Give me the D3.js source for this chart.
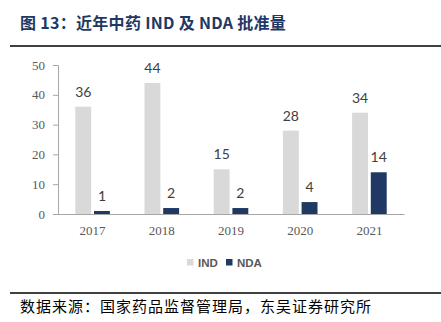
<!DOCTYPE html>
<html><head><meta charset="utf-8">
<script src="https://cdn.jsdelivr.net/npm/d3@7"></script>
<style>body{margin:0;background:#fff}svg{display:block}</style>
</head><body>
<script>
const years = ["2017","2018","2019","2020","2021"];
const seriesNames = ["IND","NDA"];
const indValues = [36,44,15,28,34];
const ndaValues = [1,2,2,4,14];
const yTicks = [0,10,20,30,40,50];
const colors = {IND:"#D9D9D9", NDA:"#1F3864"};

const W=441,H=322;
const svg=d3.select("body").append("svg").attr("width",W).attr("height",H);

svg.append("text").attr("x",20).attr("y",29)
  .attr("font-family","'Noto Sans CJK SC',sans-serif").attr("font-weight","bold")
  .attr("font-size",16).attr("letter-spacing",0.3).attr("fill","#1F3864")
  .text("图 13：近年中药 IND 及 NDA 批准量");
svg.append("line").attr("x1",10).attr("x2",441).attr("y1",46).attr("y2",46)
  .attr("stroke","#000").attr("stroke-width",1.6);

const x0=d3.scaleBand().domain(years).range([58,404]).paddingInner(0.5).paddingOuter(0.25);
const x1=d3.scaleBand().domain(seriesNames).range([0,x0.bandwidth()]).paddingInner(0.15);
const y=d3.scaleLinear().domain([0,50]).range([214,65]);

const data = years.map((yr,i)=>({year:yr, vals:[{k:"IND",v:indValues[i]},{k:"NDA",v:ndaValues[i]}]}));

// y axis
const yAxis=svg.append("g").attr("transform","translate(58,0)")
  .call(d3.axisLeft(y).tickValues(yTicks).tickSize(5).tickPadding(8));
yAxis.select(".domain").attr("stroke","#A6A6A6");
yAxis.selectAll(".tick line").attr("stroke","#A6A6A6");
yAxis.selectAll("text").attr("font-family","'Liberation Serif',serif").attr("font-size",13).attr("fill","#595959");

const g=svg.append("g");
const grp=g.selectAll("g").data(data).join("g").attr("transform",d=>`translate(${x0(d.year)},0)`);
grp.selectAll("rect").data(d=>d.vals).join("rect")
  .attr("x",d=>x1(d.k)).attr("width",x1.bandwidth())
  .attr("y",d=>y(d.v)).attr("height",d=>y(0)-y(d.v)).attr("fill",d=>colors[d.k]);
grp.selectAll("text").data(d=>d.vals).join("text")
  .attr("x",d=>x1(d.k)+x1.bandwidth()/2).attr("y",d=>y(d.v)-10)
  .attr("text-anchor","middle").attr("font-family","Lato,'Noto Sans',sans-serif")
  .attr("font-size",14).attr("fill","#404040").text(d=>d.v);

// x axis
const xAxis=svg.append("g").attr("transform","translate(0,214)")
  .call(d3.axisBottom(x0).tickSize(0).tickPadding(12).tickSizeOuter(0));
xAxis.select(".domain").attr("stroke","#A6A6A6").attr("stroke-width",1.2);
xAxis.selectAll("text").attr("font-family","'Liberation Serif',serif").attr("font-size",13).attr("fill","#595959");
xAxis.selectAll(".tick").attr("transform",d=>`translate(${x0(d)+x0.bandwidth()/2},0)`);

// legend
const leg=svg.append("g").attr("font-family","'Liberation Sans Narrow','Arial Narrow',sans-serif")
  .attr("font-size",11.5).attr("font-weight","bold").attr("fill","#595959");
const legX=[187,226];
seriesNames.forEach((s,i)=>{
  leg.append("rect").attr("x",legX[i]).attr("y",259).attr("width",6.5).attr("height",6.5).attr("fill",colors[s]);
  leg.append("text").attr("x",legX[i]+11).attr("y",266.5).text(s);
});

svg.append("line").attr("x1",10).attr("x2",441).attr("y1",293).attr("y2",293)
  .attr("stroke","#000").attr("stroke-width",1.4);
svg.append("text").attr("x",20).attr("y",312)
  .attr("font-family","'Noto Sans CJK SC',sans-serif").attr("font-size",15).attr("letter-spacing",1)
  .attr("fill","#000")
  .text("数据来源：国家药品监督管理局，东吴证券研究所");
</script>
</body></html>
